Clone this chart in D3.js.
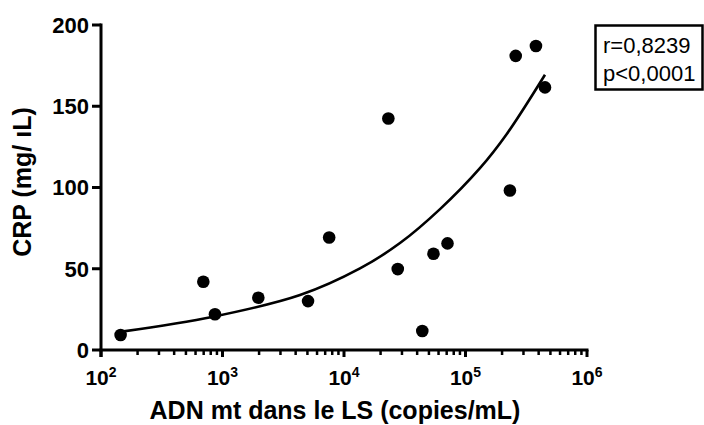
<!DOCTYPE html>
<html>
<head>
<meta charset="utf-8">
<script src="https://cdn.jsdelivr.net/npm/d3@7"></script>
<style>
  html, body { margin: 0; padding: 0; background: #fff; }
  svg { display: block; }
  text { font-family: "Liberation Sans", Arial, sans-serif; fill: #000; }
</style>
</head>
<body>
<svg id="chart" width="704" height="425"></svg>
<script>
// ---- data ----
const dnaCopies = [145, 695, 867, 1972, 5058, 7550, 23170, 27700, 44100, 54500, 71100, 232000, 259000, 380000, 451000];
const crpValues = [9.2, 42.0, 22.0, 32.2, 30.1, 69.2, 142.5, 49.8, 11.7, 59.2, 65.6, 98.2, 181.0, 187.1, 161.6];

// fitted curve
const fitX = [148, 840, 4345, 13540, 28900, 61700, 131500, 218000, 451000];
const fitY = [11.3, 20.5, 33.8, 50.2, 65.8, 86.7, 111.9, 132.8, 169.4];

const xMajorTicks = [1e2, 1e3, 1e4, 1e5, 1e6];
const xTickExponents = ["2", "3", "4", "5", "6"];
const yTicks = [0, 50, 100, 150, 200];
const statsLines = ["r=0,8239", "p<0,0001"];
const xTitle = "ADN mt dans le LS (copies/mL)";
const yTitle = "CRP (mg/ \u0131L)";

// ---- layout ----
const svg = d3.select("#chart");
const plotLeft = 101, plotRight = 587, plotTop = 25, plotBottom = 350;

const x = d3.scaleLog().domain([1e2, 1e6]).range([plotLeft, plotRight]);
const y = d3.scaleLinear().domain([0, 200]).range([plotBottom, plotTop]);

// minor ticks 2..9 per decade
const minorTicks = [];
[1e2, 1e3, 1e4, 1e5].forEach(d => { for (let k = 2; k <= 9; k++) minorTicks.push(d * k); });

// X axis
const xAxisG = svg.append("g");
xAxisG.append("line")
  .attr("x1", plotLeft - 1.5).attr("x2", plotRight + 1.5)
  .attr("y1", plotBottom).attr("y2", plotBottom)
  .attr("stroke", "#000").attr("stroke-width", 3);
xAxisG.selectAll("line.major").data(xMajorTicks).enter().append("line")
  .attr("class", "major")
  .attr("x1", d => x(d)).attr("x2", d => x(d))
  .attr("y1", plotBottom).attr("y2", plotBottom + 7)
  .attr("stroke", "#000").attr("stroke-width", 3);
xAxisG.selectAll("line.minor").data(minorTicks).enter().append("line")
  .attr("class", "minor")
  .attr("x1", d => x(d)).attr("x2", d => x(d))
  .attr("y1", plotBottom).attr("y2", plotBottom + 5)
  .attr("stroke", "#000").attr("stroke-width", 2.5);

const xl = xAxisG.selectAll("text.xl").data(xMajorTicks).enter().append("text")
  .attr("class", "xl")
  .attr("x", d => x(d))
  .attr("y", 385)
  .attr("text-anchor", "middle")
  .attr("font-size", 21)
  .attr("font-weight", "bold");
xl.append("tspan").text("10");
xl.append("tspan")
  .attr("font-size", 14)
  .attr("dy", -8)
  .text((d, i) => xTickExponents[i]);

// Y axis
const yAxisG = svg.append("g");
yAxisG.append("line")
  .attr("x1", plotLeft).attr("x2", plotLeft)
  .attr("y1", plotTop - 1.5).attr("y2", plotBottom + 7)
  .attr("stroke", "#000").attr("stroke-width", 3);
yAxisG.selectAll("line.yt").data(yTicks).enter().append("line")
  .attr("class", "yt")
  .attr("x1", plotLeft - 9).attr("x2", plotLeft)
  .attr("y1", d => y(d)).attr("y2", d => y(d))
  .attr("stroke", "#000").attr("stroke-width", 3);
yAxisG.selectAll("text.yl").data(yTicks).enter().append("text")
  .attr("class", "yl")
  .attr("x", 89)
  .attr("y", d => y(d))
  .attr("dy", "0.36em")
  .attr("text-anchor", "end")
  .attr("font-size", 22)
  .attr("font-weight", "bold")
  .text(d => d);

// Axis titles
svg.append("text")
  .attr("x", 335).attr("y", 419)
  .attr("text-anchor", "middle")
  .attr("font-size", 25)
  .attr("font-weight", "bold")
  .text(xTitle);

svg.append("text")
  .attr("transform", "translate(31,182) rotate(-90)")
  .attr("text-anchor", "middle")
  .attr("font-size", 25)
  .attr("font-weight", "bold")
  .text(yTitle);

// Fitted curve
const fitData = fitX.map((v, i) => [v, fitY[i]]);
svg.append("path")
  .datum(fitData)
  .attr("fill", "none")
  .attr("stroke", "#000")
  .attr("stroke-width", 2.6)
  .attr("d", d3.line().x(d => x(d[0])).y(d => y(d[1])).curve(d3.curveCatmullRom));

// Points
svg.selectAll("circle.pt").data(dnaCopies).enter().append("circle")
  .attr("class", "pt")
  .attr("cx", d => x(d))
  .attr("cy", (d, i) => y(crpValues[i]))
  .attr("r", 6.3)
  .attr("fill", "#000");

// Stats box
const box = svg.append("g");
box.append("rect")
  .attr("x", 595.5).attr("y", 25.5)
  .attr("width", 107).attr("height", 64)
  .attr("fill", "#fff")
  .attr("stroke", "#000").attr("stroke-width", 2.5);
box.selectAll("text").data(statsLines).enter().append("text")
  .attr("x", 603)
  .attr("y", (d, i) => 53 + i * 28)
  .attr("font-size", 22)
  .text(d => d);
</script>
</body>
</html>
